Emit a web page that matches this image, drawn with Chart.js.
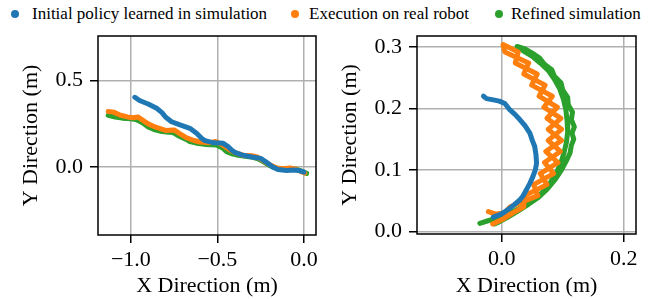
<!DOCTYPE html>
<html lang="en">
<head>
  <meta charset="UTF-8" />
  <title>Trajectory comparison</title>
  <script src="https://cdn.jsdelivr.net/npm/chart.js"></script>
  <style>
    body { margin: 0; background: #fff; font-family: "Liberation Serif", "Times New Roman", serif; }
    #wrap { position: relative; width: 652px; height: 299px; overflow: hidden; }
    .item { position: absolute; top: 4px; font-size: 17px; white-space: nowrap; color: #000; }
    .dot { position: absolute; top: 10px; width: 8px; height: 8px; border-radius: 50%; }
    canvas { position: absolute; top: 0; }
    #leftChart { left: 0; }
    #rightChart { left: 326px; }
  </style>
</head>
<body>
  <div id="wrap">
    <div id="legend"></div>
    <canvas id="leftChart" width="326" height="299"></canvas>
    <canvas id="rightChart" width="326" height="299"></canvas>
  </div>

  <script>
    const seriesNames = ["Initial policy learned in simulation", "Execution on real robot", "Refined simulation"];
    const seriesColors = ["#1f77b4", "#ff7f0e", "#2ca02c"];

    // left panel: straight-ish run towards the origin
    const leftInitX = [-0.977, -0.95, -0.90, -0.851, -0.82, -0.80, -0.765, -0.72, -0.659, -0.62, -0.59, -0.572, -0.52, -0.466, -0.44, -0.418, -0.40, -0.36, -0.30, -0.25, -0.22, -0.18, -0.15, -0.10, -0.06, -0.03, 0.0];
    const leftInitY = [0.404, 0.385, 0.365, 0.340, 0.315, 0.290, 0.262, 0.245, 0.224, 0.195, 0.165, 0.153, 0.140, 0.137, 0.120, 0.098, 0.085, 0.070, 0.058, 0.050, 0.030, 0.000, -0.015, -0.020, -0.018, -0.020, -0.030];
    const leftRealX = [-1.131, -1.10, -1.06, -1.02, -0.986, -0.96, -0.93, -0.90, -0.86, -0.83, -0.80, -0.75, -0.72, -0.68, -0.64, -0.60, -0.55, -0.51, -0.47, -0.43, -0.39, -0.35, -0.30, -0.27, -0.24, -0.20, -0.16, -0.12, -0.08, -0.05, -0.02, 0.005];
    const leftRealY = [0.322, 0.318, 0.300, 0.290, 0.285, 0.290, 0.270, 0.250, 0.232, 0.222, 0.212, 0.215, 0.195, 0.170, 0.155, 0.145, 0.140, 0.148, 0.128, 0.100, 0.080, 0.068, 0.065, 0.058, 0.040, 0.015, -0.005, -0.010, -0.005, -0.012, -0.025, -0.035];
    const leftRefX = [-1.131, -1.09, -1.05, -1.0, -0.97, -0.93, -0.90, -0.86, -0.82, -0.78, -0.755, -0.72, -0.68, -0.659, -0.62, -0.572, -0.505, -0.47, -0.447, -0.41, -0.389, -0.34, -0.293, -0.26, -0.235, -0.20, -0.177, -0.14, -0.10, -0.042, -0.01, 0.016];
    const leftRefY = [0.300, 0.290, 0.283, 0.280, 0.275, 0.255, 0.232, 0.215, 0.205, 0.202, 0.199, 0.178, 0.160, 0.148, 0.138, 0.131, 0.127, 0.110, 0.089, 0.075, 0.070, 0.062, 0.056, 0.045, 0.031, 0.010, -0.002, -0.010, -0.013, -0.013, -0.025, -0.037];

    // right panel: curved run
    const rightInitX = [-0.030, -0.025, -0.014, -0.004, 0.005, 0.013, 0.022, 0.0295, 0.038, 0.046, 0.050, 0.054, 0.056, 0.057, 0.055, 0.051, 0.046, 0.040, 0.035, 0.0295, 0.020, 0.013, 0.004, -0.003, -0.014];
    const rightInitY = [0.220, 0.216, 0.214, 0.212, 0.208, 0.198, 0.190, 0.182, 0.172, 0.160, 0.148, 0.138, 0.125, 0.111, 0.100, 0.089, 0.078, 0.067, 0.058, 0.051, 0.043, 0.0375, 0.031, 0.027, 0.023];
    // real robot: up one side and back down, crossing itself into a chain
    const rightRealX = [-0.015, 0.002, 0.018, 0.036, 0.037, 0.074, 0.063, 0.092, 0.072, 0.098, 0.076, 0.097, 0.069, 0.083, 0.049, 0.058, 0.022, 0.027, 0.002,
      0.005, 0.044, 0.036, 0.071, 0.061, 0.091, 0.074, 0.098, 0.076, 0.096, 0.070, 0.085, 0.052, 0.059, 0.014, 0.005, -0.010, -0.022];
    const rightRealY = [0.012, 0.020, 0.030, 0.040, 0.058, 0.076, 0.094, 0.112, 0.130, 0.148, 0.166, 0.184, 0.202, 0.220, 0.238, 0.256, 0.274, 0.292, 0.304,
      0.292, 0.274, 0.256, 0.238, 0.220, 0.202, 0.184, 0.166, 0.148, 0.130, 0.112, 0.094, 0.076, 0.058, 0.040, 0.030, 0.028, 0.032];
    const rightRefX = [-0.036, -0.020, 0.000, 0.020, 0.042, 0.060, 0.074, 0.088, 0.098, 0.106, 0.112, 0.114, 0.118, 0.115, 0.119, 0.114, 0.116, 0.109, 0.108, 0.100, 0.097, 0.086, 0.082, 0.070, 0.062, 0.050, 0.038, 0.025,
      0.035, 0.050, 0.063, 0.076, 0.086, 0.095, 0.101, 0.105, 0.107, 0.108, 0.106, 0.102, 0.097, 0.090, 0.080, 0.069, 0.056, 0.041, 0.025, 0.008, -0.005, -0.012];
    const rightRefY = [0.013, 0.018, 0.025, 0.033, 0.043, 0.055, 0.068, 0.085, 0.100, 0.115, 0.128, 0.140, 0.150, 0.160, 0.170, 0.182, 0.194, 0.206, 0.218, 0.230, 0.242, 0.253, 0.263, 0.272, 0.282, 0.290, 0.297, 0.301,
      0.294, 0.285, 0.274, 0.262, 0.248, 0.232, 0.215, 0.198, 0.180, 0.162, 0.145, 0.128, 0.112, 0.096, 0.080, 0.066, 0.053, 0.042, 0.032, 0.022, 0.015, 0.012];

    const leftXTicks = [-1.0, -0.5, 0.0];
    const leftYTicks = [0.0, 0.5];
    const rightXTicks = [0.0, 0.2];
    const rightYTicks = [0.0, 0.1, 0.2, 0.3];

    const serif = '"Liberation Serif", "Times New Roman", serif';
    Chart.defaults.font.family = serif;
    Chart.defaults.color = "#000";

    // legend across the top
    const legendPos = [[15, 32], [295, 309], [499, 511]];
    const legend = document.getElementById("legend");
    seriesNames.forEach((name, i) => {
      const dot = document.createElement("div");
      dot.className = "dot";
      dot.style.left = (legendPos[i][0] - 4) + "px";
      dot.style.background = seriesColors[i];
      legend.appendChild(dot);
      const label = document.createElement("div");
      label.className = "item";
      label.style.left = legendPos[i][1] + "px";
      label.textContent = name;
      legend.appendChild(label);
    });

    function pts(xs, ys) {
      return xs.map((x, i) => ({ x: x, y: ys[i] }));
    }

    function fmt(v) {
      return (v < -1e-9 ? "\u2212" : "") + Math.abs(v).toFixed(1);
    }

    // black box round the plot area
    const frame = {
      id: "frame",
      afterDatasetsDraw(chart) {
        const a = chart.chartArea, ctx = chart.ctx;
        ctx.save();
        ctx.strokeStyle = "#000";
        ctx.lineWidth = 1.5;
        ctx.strokeRect(a.left, a.top, a.right - a.left, a.bottom - a.top);
        ctx.restore();
      }
    };

    function makeChart(id, series, xr, yr, xTicks, yTicks, yAxisWidth, xAxisHeight, padRight, yTitlePad) {
      const datasets = series.map((s, i) => ({
        label: seriesNames[i],
        data: pts(s[0], s[1]),
        showLine: true,
        borderColor: seriesColors[i],
        backgroundColor: seriesColors[i],
        borderWidth: 5,
        pointRadius: 0,
        borderJoinStyle: "round",
        borderCapStyle: "round",
        tension: 0
      }));
      const grid = { color: "#b0b0b0", lineWidth: 1.5, tickColor: "#000", tickWidth: 1.5, tickLength: 8 };
      const f = { family: serif, size: 22 };
      return new Chart(document.getElementById(id), {
        type: "scatter",
        data: { datasets },
        options: {
          responsive: false,
          animation: false,
          layout: { padding: { top: 36, right: padRight, left: 0, bottom: 0 } },
          plugins: { legend: { display: false }, tooltip: { enabled: false } },
          scales: {
            x: {
              min: xr[0], max: xr[1],
              afterBuildTicks: ax => { ax.ticks = xTicks.map(v => ({ value: v })); },
              afterFit: ax => { ax.height = xAxisHeight; },
              ticks: { font: f, padding: 4, maxRotation: 0, callback: fmt },
              grid: grid,
              border: { display: false },
              title: { display: true, text: "X Direction (m)", font: f, padding: { top: 0, bottom: 0 } }
            },
            y: {
              min: yr[0], max: yr[1],
              afterBuildTicks: ax => { ax.ticks = yTicks.map(v => ({ value: v })); },
              afterFit: ax => { ax.width = yAxisWidth; },
              ticks: { font: f, padding: 7, callback: fmt },
              grid: grid,
              border: { display: false },
              title: { display: true, text: "Y Direction (m)", font: f, padding: { top: yTitlePad, bottom: 0 } }
            }
          }
        },
        plugins: [frame]
      });
    }

    makeChart("leftChart",
      [[leftInitX, leftInitY], [leftRealX, leftRealY], [leftRefX, leftRefY]],
      [-1.19, 0.07], [-0.394, 0.759], leftXTicks, leftYTicks, 98, 64, 10, 18);
    makeChart("rightChart",
      [[rightInitX, rightInitY], [rightRealX, rightRealY], [rightRefX, rightRefY]],
      [-0.139, 0.22], [-0.0044, 0.318], rightXTicks, rightYTicks, 91, 65, 16, 11);
  </script>
</body>
</html>
